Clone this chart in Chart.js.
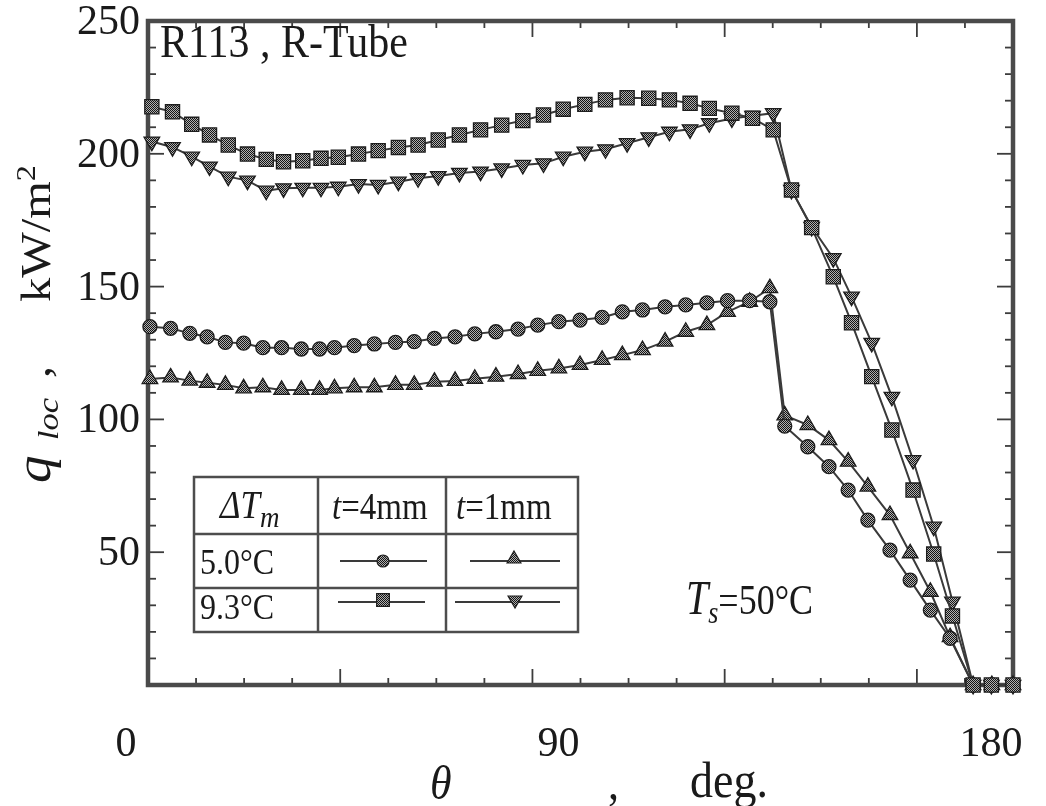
<!DOCTYPE html>
<html><head><meta charset="utf-8">
<script src="https://cdn.jsdelivr.net/npm/chart.js@4.4.0/dist/chart.umd.min.js"></script>
<style>html,body{margin:0;padding:0;background:#fff}canvas{display:block}</style>
</head><body>
<canvas id="c" width="1046" height="806"></canvas>
<script>
// ---- data ----
const thetaHigh = [0.8, 5.1, 9.1, 12.8, 16.7, 20.7, 24.6, 28.2, 32.2, 36.0, 39.6, 43.8, 47.9, 52.1, 56.2, 60.4, 64.8, 69.2, 73.6, 78.0, 82.3, 86.4, 90.9, 95.2, 99.7, 104.2, 108.5, 112.8, 116.8, 121.5, 125.8, 130.1, 133.9, 138.1, 142.6, 146.4, 150.6, 154.8, 159.2, 163.5, 167.4, 171.7, 175.5, 180.0];
const thetaLow = [0.4, 4.7, 8.7, 12.3, 16.1, 19.9, 23.9, 27.8, 31.9, 35.7, 38.8, 42.9, 47.1, 51.5, 55.4, 59.6, 63.9, 68.0, 72.4, 77.0, 81.1, 85.5, 89.9, 94.5, 98.7, 102.9, 107.6, 111.9, 116.3, 120.6, 125.2, 129.4, 132.5, 137.3, 141.7, 145.7, 149.8, 154.4, 158.6, 162.8, 166.9, 171.7, 175.6, 180.0];
// dTm = 9.3 C, t = 4 mm (squares)
const q93_t4 = [217.7, 215.8, 211.1, 207.1, 203.3, 199.9, 197.9, 197.0, 197.4, 198.3, 198.7, 199.9, 201.2, 202.4, 203.3, 205.2, 207.1, 209.0, 210.8, 212.5, 214.6, 216.8, 218.6, 220.3, 221.1, 220.9, 220.3, 219.0, 217.1, 215.3, 213.4, 209.0, 186.4, 172.2, 153.7, 136.4, 116.1, 96.0, 73.4, 49.3, 26.0, 0, 0, 0];
// dTm = 9.3 C, t = 1 mm (down triangles)
const q93_t1 = [204.6, 202.5, 198.9, 195.2, 191.4, 189.9, 186.1, 187.0, 187.2, 187.2, 187.6, 188.6, 188.3, 189.5, 190.8, 191.6, 192.8, 193.3, 194.5, 195.8, 196.4, 198.9, 200.8, 201.7, 204.0, 206.2, 208.3, 209.2, 211.5, 213.3, 214.3, 215.3, 186.4, 172.5, 160.7, 146.2, 128.8, 108.5, 84.7, 59.6, 31.4, 0, 0, 0];
// dTm = 5.0 C, t = 4 mm (circles)
const q50_t4 = [134.9, 134.3, 132.4, 131.1, 129.0, 128.7, 127.0, 127.0, 126.5, 126.5, 127.0, 127.8, 128.4, 129.0, 129.3, 130.5, 131.1, 132.2, 133.0, 134.0, 135.5, 136.8, 137.4, 138.4, 140.5, 141.2, 142.4, 143.1, 143.9, 144.7, 144.7, 144.3, 97.5, 89.7, 82.2, 73.4, 62.1, 50.8, 39.5, 28.2, 17.6, 0, 0, 0];
// dTm = 5.0 C, t = 1 mm (up triangles)
const q50_t1 = [115.2, 115.8, 114.6, 113.8, 113.0, 111.7, 112.1, 111.1, 111.1, 111.1, 111.7, 112.1, 112.1, 113.0, 113.0, 114.2, 114.5, 115.3, 116.1, 117.1, 118.3, 119.2, 120.5, 122.4, 124.2, 126.1, 129.3, 133.0, 135.5, 140.5, 144.3, 149.4, 101.5, 97.9, 92.2, 84.1, 74.7, 64.0, 49.6, 35.1, 18.0, 0, 0, 0];

const xTickLabels = [0, 90, 180];
const yTickLabels = [50, 100, 150, 200, 250];
const xMinorStep = 10, xMajorStep = 40;
const yMinorStep = 10, yMajorStep = 50;

const INK = '#1a1a1a';
const SERIF = '"Liberation Serif", "DejaVu Serif", serif';
const canvas = document.getElementById('c');
const ctx0 = canvas.getContext('2d');

function makePattern() {
  const p = document.createElement('canvas');
  p.width = 2; p.height = 2;
  const g = p.getContext('2d');
  g.fillStyle = '#b0b0b0'; g.fillRect(0, 0, 2, 2);
  g.fillStyle = '#141414'; g.fillRect(0, 0, 1, 1); g.fillRect(1, 1, 1, 1);
  return ctx0.createPattern(p, 'repeat');
}
const PAT = makePattern();

function pts(th, vals) { return th.map((t, i) => ({ x: t, y: vals[i] })); }

function ds(label, th, vals, style, r, rot) {
  return {
    label, data: pts(th, vals), pointStyle: style, pointRadius: r, pointRotation: rot || 0,
    pointBackgroundColor: PAT, pointBorderColor: '#1e1e1e', pointBorderWidth: 1.3,
    borderColor: '#3a3a3a', borderWidth: 2, tension: 0, clip: false, fill: false
  };
}

function txt(ctx, s, x, y, font, sy) {
  ctx.save();
  ctx.font = font; ctx.fillStyle = INK; ctx.textAlign = 'left'; ctx.textBaseline = 'alphabetic';
  ctx.translate(x, y); ctx.scale(1, sy || 1);
  ctx.fillText(s, 0, 0);
  const w = ctx.measureText(s).width;
  ctx.restore();
  return w;
}
function runs(ctx, x, y, list, sy) {
  let cx = x;
  for (const r of list) { cx += (r.gap || 0); cx += txt(ctx, r.s, cx, y + (r.dy || 0), r.font, sy); }
}
function rtxt(ctx, s, bx, startY, font, dy, sx) {
  ctx.save();
  ctx.font = font; ctx.fillStyle = INK; ctx.textAlign = 'left'; ctx.textBaseline = 'alphabetic';
  ctx.translate(bx, startY); ctx.rotate(-Math.PI / 2); ctx.translate(0, dy || 0); ctx.scale(sx || 1, 1);
  ctx.fillText(s, 0, 0);
  const w = ctx.measureText(s).width * (sx || 1);
  ctx.restore();
  return w;
}
function marker(ctx, style, x, y, r, rot) {
  ctx.save();
  ctx.fillStyle = PAT; ctx.strokeStyle = '#1e1e1e'; ctx.lineWidth = 1.2;
  ctx.beginPath();
  if (style === 'circle') ctx.arc(x, y, r, 0, Math.PI * 2);
  else if (style === 'rect') { const s = r * Math.SQRT1_2; ctx.rect(x - s, y - s, 2 * s, 2 * s); }
  else {
    let a = (rot || 0) * Math.PI / 180;
    ctx.moveTo(x + Math.sin(a) * r, y - Math.cos(a) * r);
    a += 2 * Math.PI / 3; ctx.lineTo(x + Math.sin(a) * r, y - Math.cos(a) * r);
    a += 2 * Math.PI / 3; ctx.lineTo(x + Math.sin(a) * r, y - Math.cos(a) * r);
    ctx.closePath();
  }
  ctx.fill(); ctx.stroke();
  ctx.restore();
}
function seg(ctx, x1, y1, x2, y2) { ctx.beginPath(); ctx.moveTo(x1, y1); ctx.lineTo(x2, y2); ctx.stroke(); }

const framePlugin = {
  id: 'frame',
  beforeDatasetsDraw(chart) {
    const ctx = chart.ctx, a = chart.chartArea, xs = chart.scales.x, ys = chart.scales.y;
    ctx.save();
    ctx.strokeStyle = '#3c3c3c'; ctx.lineWidth = 1.8;
    for (let v = xMinorStep; v < 180; v += xMinorStep) {
      const px = xs.getPixelForValue(v);
      const L = (v % xMajorStep === 0) ? 16 : 7;
      seg(ctx, px, a.bottom, px, a.bottom - L);
      seg(ctx, px, a.top, px, a.top + L);
    }
    for (let v = yMinorStep; v < 250; v += yMinorStep) {
      const py = ys.getPixelForValue(v);
      const L = (v % yMajorStep === 0) ? 16 : 8;
      seg(ctx, a.left, py, a.left + L, py);
      seg(ctx, a.right, py, a.right - L, py);
    }
    ctx.strokeStyle = '#4a4a4a'; ctx.lineWidth = 4.5;
    ctx.strokeRect(a.left, a.top, a.right - a.left, a.bottom - a.top);
    ctx.restore();
  },
  afterDraw(chart) {
    const ctx = chart.ctx;
    // header annotation
    txt(ctx, 'R113 , R-Tube', 160, 57, '42px ' + SERIF, 1.12);
    // Ts annotation
    runs(ctx, 686, 614, [
      { s: 'T', font: 'italic 40px ' + SERIF },
      { s: 's', font: 'italic 26px ' + SERIF, dy: 9 },
      { s: '=50°C', font: '36px ' + SERIF }
    ], 1.2);
    // x axis title
    txt(ctx, 'θ', 430, 799, 'italic 44px ' + SERIF, 1.12);
    txt(ctx, ',', 608, 799, '44px ' + SERIF, 1.12);
    txt(ctx, 'deg.', 690, 797, '46px ' + SERIF, 1.12);
    // y axis title (rotated)
    rtxt(ctx, 'q', 50, 483, 'italic 50px ' + SERIF, 0, 1.1);
    rtxt(ctx, 'loc', 50, 440, 'italic 30px ' + SERIF, 8, 1.15);
    rtxt(ctx, ',', 50, 378, '44px ' + SERIF, 0, 1.1);
    const w = rtxt(ctx, 'kW/m', 50, 302, '42px ' + SERIF, 0, 1.15);
    rtxt(ctx, '2', 50, 302 - w, '28px ' + SERIF, -15, 1.15);
    // legend table
    ctx.save();
    ctx.fillStyle = '#fff';
    ctx.fillRect(194, 477, 384, 155);
    ctx.strokeStyle = '#4d4d4d'; ctx.lineWidth = 2.5;
    ctx.strokeRect(194, 477, 384, 155);
    seg(ctx, 318, 477, 318, 632);
    seg(ctx, 446, 477, 446, 632);
    seg(ctx, 194, 534, 578, 534);
    seg(ctx, 194, 588, 578, 588);
    ctx.restore();
    runs(ctx, 220, 518, [
      { s: 'Δ', font: 'italic 35px ' + SERIF },
      { s: 'T', font: 'italic 35px ' + SERIF },
      { s: 'm', font: 'italic 27px ' + SERIF, dy: 9 }
    ], 1.12);
    runs(ctx, 332, 519, [{ s: 't', font: 'italic 33px ' + SERIF }, { s: '=4mm', font: '33px ' + SERIF }], 1.12);
    runs(ctx, 456, 519, [{ s: 't', font: 'italic 33px ' + SERIF }, { s: '=1mm', font: '33px ' + SERIF }], 1.12);
    txt(ctx, '5.0°C', 200, 574, '32px ' + SERIF, 1.12);
    txt(ctx, '9.3°C', 200, 619, '32px ' + SERIF, 1.12);
    ctx.save();
    ctx.strokeStyle = '#3a3a3a'; ctx.lineWidth = 2;
    seg(ctx, 340, 561, 427, 561); marker(ctx, 'circle', 383, 561, 6);
    seg(ctx, 470, 561, 560, 561); marker(ctx, 'triangle', 514, 559, 8, 0);
    seg(ctx, 338, 602, 425, 602); marker(ctx, 'rect', 383, 600, 9);
    seg(ctx, 455, 602, 560, 602); marker(ctx, 'triangle', 515, 600, 8, 180);
    ctx.restore();
  }
};

new Chart(canvas, {
  type: 'line',
  data: {
    datasets: [
      ds('9.3°C, t=4mm', thetaHigh, q93_t4, 'rect', 10, 0),
      ds('9.3°C, t=1mm', thetaHigh, q93_t1, 'triangle', 9, 180),
      ds('5.0°C, t=4mm', thetaLow, q50_t4, 'circle', 7, 0),
      ds('5.0°C, t=1mm', thetaLow, q50_t1, 'triangle', 9, 0)
    ]
  },
  options: {
    responsive: false, animation: false, events: [],
    layout: { padding: { left: 0, right: 33, top: 21, bottom: 0 } },
    plugins: { legend: { display: false }, tooltip: { enabled: false } },
    scales: {
      x: {
        type: 'linear', min: 0, max: 180,
        grid: { display: false, drawTicks: false }, border: { display: false },
        ticks: {
          stepSize: 10, autoSkip: false, maxRotation: 0, padding: 35, labelOffset: -22,
          color: INK, font: { family: SERIF, size: 42 },
          callback: v => xTickLabels.includes(v) ? String(v) : ''
        },
        afterFit: s => { s.height = 121; s.paddingLeft = 0; s.paddingRight = 0; }
      },
      y: {
        type: 'linear', min: 0, max: 250,
        grid: { display: false, drawTicks: false }, border: { display: false },
        ticks: {
          stepSize: 10, autoSkip: false, padding: 8, labelOffset: 2,
          color: INK, font: { family: SERIF, size: 42 },
          callback: v => yTickLabels.includes(v) ? String(v) : ''
        },
        afterFit: s => { s.width = 148; s.paddingTop = 0; s.paddingBottom = 0; }
      }
    }
  },
  plugins: [framePlugin]
});
</script>
</body></html>
